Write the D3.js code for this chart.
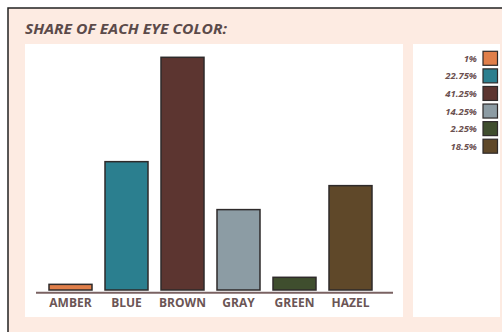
<!DOCTYPE html>
<html><head><meta charset="utf-8">
<script src="https://cdn.jsdelivr.net/npm/d3@7"></script>
<style>html,body{margin:0;padding:0;background:#fff;}svg{display:block;}</style>
</head><body>
<script>
const categories = ["AMBER","BLUE","BROWN","GRAY","GREEN","HAZEL"];
const values = [1, 22.75, 41.25, 14.25, 2.25, 18.5];
const legendLabels = ["1%","22.75%","41.25%","14.25%","2.25%","18.5%"];
const colors = ["#e07f4a","#2b7f8f","#5c3530","#8c9ca4","#3f4e2e","#5f4829"];
const title = "SHARE OF EACH EYE COLOR:";

const W = 502, H = 332;
const svg = d3.select("body").append("svg").attr("width", W).attr("height", H);

svg.append("rect").attr("x",0).attr("y",0).attr("width",W).attr("height",H).attr("fill","#ffffff");
svg.append("rect").attr("x",8).attr("y",8).attr("width",W+10).attr("height",H+10)
  .attr("fill","#fdebe2").attr("stroke","#222").attr("stroke-width",1.5);

svg.append("text").attr("x",25).attr("y",33.5).text(title)
  .attr("font-family","Open Sans, sans-serif").attr("font-weight","bold").attr("font-style","italic")
  .attr("font-size",13.5).attr("fill","#5b4a4a").attr("textLength",202).attr("lengthAdjust","spacingAndGlyphs");

svg.append("rect").attr("x",25).attr("y",44).attr("width",378).attr("height",273).attr("fill","#ffffff");
svg.append("rect").attr("x",413).attr("y",44).attr("width",87).attr("height",273).attr("fill","#ffffff");

const x = d3.scaleBand().domain(categories).range([42.5, 378.5]).paddingInner(13/56).paddingOuter(6.5/56);
const y = d3.scaleLinear().domain([0, d3.max(values)]).range([290, 57.3]);

svg.append("g").selectAll("rect").data(categories).join("rect")
  .attr("x", d => x(d)).attr("width", x.bandwidth())
  .attr("y", (d,i) => y(values[i])).attr("height", (d,i) => y(0) - y(values[i]))
  .attr("fill", (d,i) => colors[i]).attr("stroke","#2e2a2a").attr("stroke-width",1.5);

const axis = svg.append("g").attr("transform","translate(0,292.7)")
  .call(d3.axisBottom(x).tickSize(0).tickPadding(6));
axis.select(".domain").attr("d","M36,0H393").attr("stroke","#7a6262").attr("stroke-width",2);
axis.selectAll("text").attr("font-family","Open Sans, sans-serif").attr("font-weight","bold")
  .attr("font-size",12).attr("fill","#6b5555");

const ly = d3.scaleBand().domain(legendLabels.map((d,i)=>i)).range([49.5, 155]);
const lg = svg.append("g").selectAll("g").data(legendLabels).join("g")
  .attr("transform", (d,i) => `translate(0,${ly(i) + ly.bandwidth()/2})`);
lg.append("rect").attr("x",483).attr("y",-7).attr("width",14.5).attr("height",14)
  .attr("fill",(d,i)=>colors[i]).attr("stroke","#2e2a2a").attr("stroke-width",1.2);
lg.append("text").attr("x",477).attr("y",3.5).attr("text-anchor","end").text(d=>d)
  .attr("font-family","Open Sans, sans-serif").attr("font-weight","bold").attr("font-style","italic")
  .attr("font-size",9.5).attr("fill","#6b5050");
</script>
</body></html>
